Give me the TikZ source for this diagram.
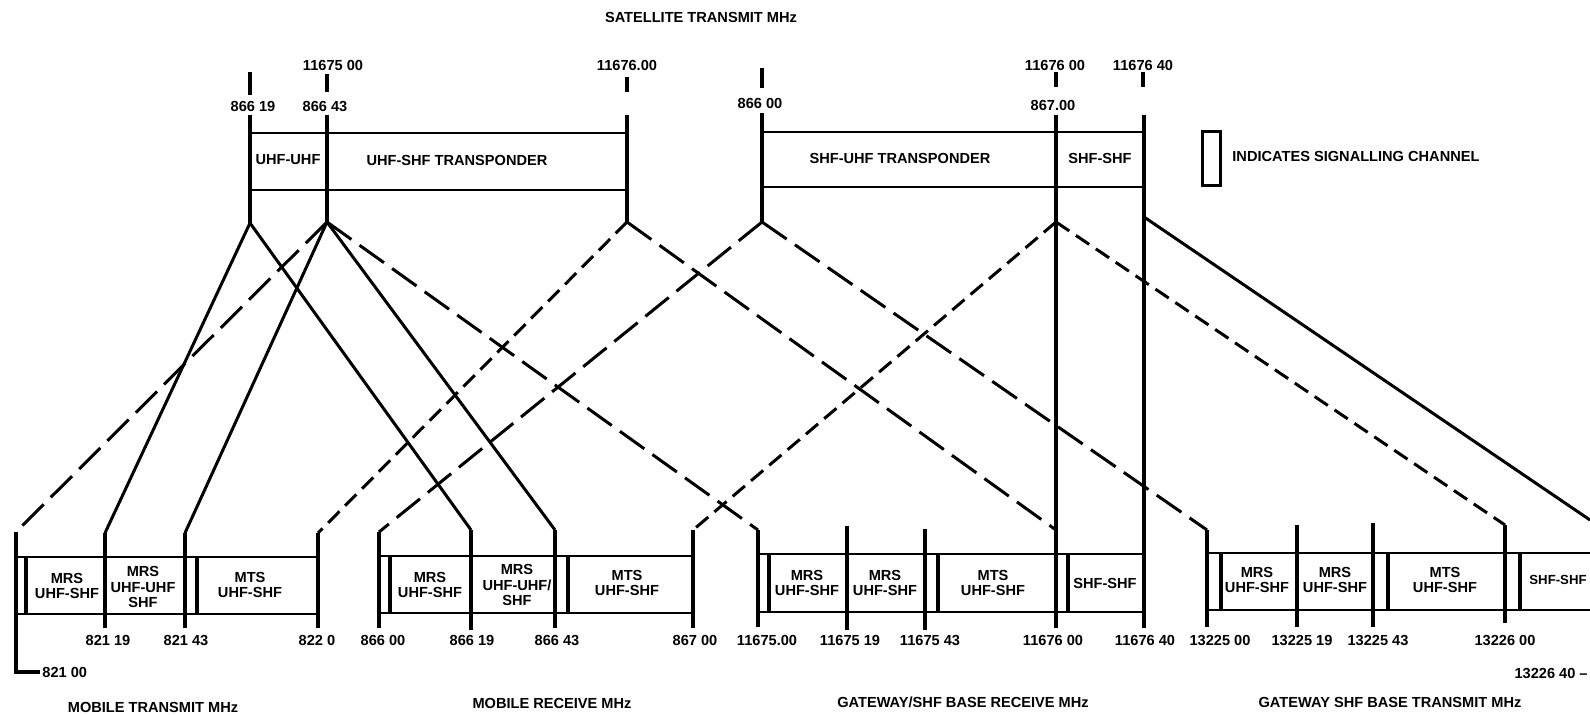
\documentclass[tikz,border=0pt]{standalone}
\usepackage{fontspec}
\setmainfont{Liberation Sans}
\begin{document}
\begin{tikzpicture}[x=0.5pt,y=-0.5pt,
  lab/.style={font=\bfseries\fontsize{7.3}{7.8}\selectfont, inner sep=0pt},
  boxtxt/.style={lab, align=center},
  ln/.style={line width=1.5pt},
  dl/.style={ln, dash pattern=on 15pt off 5pt},
  ds/.style={ln, dash pattern=on 8pt off 4pt},
  band/.style={line width=1.2pt},
  sig/.style={line width=2.4pt},
  tick/.style={line width=1.6pt}]
\useasboundingbox (0,0) rectangle (1590,715);
\begin{scope}
\clip (0,0) rectangle (1590,715);
% ---------- top: satellite transmit ----------
\node[lab] (sattitle) at (701,17) {SATELLITE TRANSMIT MHz};
\node[lab] (t1167500) at (333,65) {11675 00};
\node[lab] (t1167600a) at (627,65) {11676.00};
\node[lab] (t1167600b) at (1055,65) {11676 00};
\node[lab] (t1167640) at (1143,65) {11676 40};
\node[lab] (t86619) at (253,106) {866 19};
\node[lab] (t86643) at (325,106) {866 43};
\node[lab] (t86600) at (760,103) {866 00};
\node[lab] (t86700) at (1053,105) {867.00};
\foreach \x/\a/\b in {250/72/95, 327/74/92, 627/77/92, 762/68/88, 1056/72/87, 1143/72/87}
  \draw[tick] (\x,\a) -- (\x,\b);
\coordinate (A1) at (250,223);
\coordinate (A2) at (327,222);
\coordinate (A3) at (627,222);
\coordinate (A4) at (762,222);
\coordinate (A5) at (1056,222);
\coordinate (A6) at (1144,217);
\draw[tick] (250,115) -- (A1);
\draw[tick] (327,115) -- (A2);
\draw[tick] (627,115) -- (A3);
\draw[tick] (762,113) -- (A4);
\draw[tick] (1056,115) -- (A5) -- (1056,628);
\draw[tick] (1144,115) -- (A6) -- (1144,628);
\draw[band] (250,133) -- (627,133) (250,190) -- (627,190);
\draw[band] (762,132) -- (1144,132) (762,187) -- (1144,187);
\node[lab] (uu) at (288,160) {UHF-UHF};
\node[lab] (usT) at (457,160) {UHF-SHF TRANSPONDER};
\node[lab] (suT) at (900,158) {SHF-UHF TRANSPONDER};
\node[lab] (ss) at (1100,158) {SHF-SHF};
% legend
\node[draw, line width=1.6pt, inner sep=0pt, minimum width=9pt, minimum height=27pt] (legbox) at (1211.5,158.5) {};
\node[lab, anchor=west] (legtxt) at (1232,156) {INDICATES SIGNALLING CHANNEL};
% ---------- bottom coordinates ----------
\coordinate (m82100) at (16,532);
\coordinate (m82119) at (105,533);
\coordinate (m82143) at (185,533);
\coordinate (m8220) at (318,533);
\coordinate (r86600) at (379,532);
\coordinate (r86619) at (471,530);
\coordinate (r86643) at (555,530);
\coordinate (r86700) at (693,530);
\coordinate (g1167500) at (758,530);
\coordinate (g1167600) at (1056,530);
\coordinate (x1322500) at (1207,530);
\coordinate (x1322600) at (1505,525);
\coordinate (x1322640) at (1590,520);
% ---------- connectors ----------
\draw[ln] (A1) -- (m82119);
\draw[ln] (A1) -- (r86619);
\draw[dl] (A2) -- (m82100);
\draw[ln] (A2) -- (m82143);
\draw[ln] (A2) -- (r86643);
\draw[dl] (A2) -- (g1167500);
\draw[ds] (A3) -- (m8220);
\draw[dl] (A3) -- (g1167600);
\draw[dl] (A4) -- (r86600);
\draw[dl] (A4) -- (x1322500);
\draw[ds] (A5) -- (r86700);
\draw[ds] (A5) -- (x1322600);
\draw[ln] (A6) -- (x1322640);
% ---------- mobile transmit ----------
\draw[tick] (m82100) -- (16,672) -- (40,672);
\draw[band] (16,557) -- (318,557) (16,614) -- (318,614);
\foreach \x in {26,197} \draw[sig] (\x,557) -- (\x,614);
\draw[tick] (m82119) -- (105,628);
\draw[tick] (m82143) -- (185,628);
\draw[tick] (m8220) -- (318,628);
\node[boxtxt] (b1) at (67,586) {MRS\\UHF-SHF};
\node[boxtxt] (b2) at (143,587) {MRS\\UHF-UHF\\SHF};
\node[boxtxt] (b3) at (250,585) {MTS\\UHF-SHF};
\node[lab, anchor=west] (l82100) at (42,672) {821 00};
\node[lab] (l82119) at (108,640) {821 19};
\node[lab] (l82143) at (186,640) {821 43};
\node[lab] (l8220) at (317,640) {822 0};
\node[lab] (cap1) at (153,707) {MOBILE TRANSMIT MHz};
% ---------- mobile receive ----------
\draw[band] (379,556) -- (693,556) (379,613) -- (693,613);
\foreach \x in {390,568} \draw[sig] (\x,556) -- (\x,613);
\draw[tick] (r86600) -- (379,628);
\draw[tick] (r86619) -- (471,630);
\draw[tick] (r86643) -- (555,628);
\draw[tick] (r86700) -- (693,628);
\node[boxtxt] (b4) at (430,585) {MRS\\UHF-SHF};
\node[boxtxt] (b5) at (517,585) {MRS\\UHF-UHF/\\SHF};
\node[boxtxt] (b6) at (627,583) {MTS\\UHF-SHF};
\node[lab] (l86600) at (383,640) {866 00};
\node[lab] (l86619) at (472,640) {866 19};
\node[lab] (l86643) at (557,640) {866 43};
\node[lab] (l86700) at (695,640) {867 00};
\node[lab] (cap2) at (552,703) {MOBILE RECEIVE MHz};
% ---------- gateway receive ----------
\draw[band] (758,554) -- (1144,554) (758,612) -- (1144,612);
\foreach \x in {769,938,1068} \draw[sig] (\x,554) -- (\x,612);
\draw[tick] (g1167500) -- (758,627);
\draw[tick] (847,526) -- (847,630);
\draw[tick] (925,529) -- (925,630);
\node[boxtxt] (b7) at (807,583) {MRS\\UHF-SHF};
\node[boxtxt] (b8) at (885,583) {MRS\\UHF-SHF};
\node[boxtxt] (b9) at (993,583) {MTS\\UHF-SHF};
\node[lab] (b10) at (1105,583) {SHF-SHF};
\node[lab] (l1167500) at (767,640) {11675.00};
\node[lab] (l1167519) at (850,640) {11675 19};
\node[lab] (l1167543) at (930,640) {11675 43};
\node[lab] (l1167600) at (1053,640) {11676 00};
\node[lab] (l1167640) at (1145,640) {11676 40};
\node[lab] (cap3) at (963,702) {GATEWAY/SHF BASE RECEIVE MHz};
% ---------- gateway transmit ----------
\draw[band] (1207,553) -- (1600,553) (1207,610) -- (1600,610);
\foreach \x in {1221,1388,1520} \draw[sig] (\x,553) -- (\x,610);
\draw[tick] (x1322500) -- (1207,627);
\draw[tick] (1297,525) -- (1297,627);
\draw[tick] (1373,523) -- (1373,627);
\draw[tick] (x1322600) -- (1505,623);
\node[boxtxt] (b11) at (1257,580) {MRS\\UHF-SHF};
\node[boxtxt] (b12) at (1335,580) {MRS\\UHF-SHF};
\node[boxtxt] (b13) at (1445,580) {MTS\\UHF-SHF};
\node[lab, font=\bfseries\fontsize{6.6}{7.8}\selectfont, anchor=east] (b14) at (1587,580) {SHF-SHF};
\node[lab] (l1322500) at (1220,640) {13225 00};
\node[lab] (l1322519) at (1302,640) {13225 19};
\node[lab] (l1322543) at (1378,640) {13225 43};
\node[lab] (l1322600) at (1505,640) {13226 00};
\node[lab, anchor=east] (l1322640) at (1588,673) {13226 40 --};
\node[lab] (cap4) at (1390,702) {GATEWAY SHF BASE TRANSMIT MHz};
\end{scope}
\end{tikzpicture}
\end{document}
